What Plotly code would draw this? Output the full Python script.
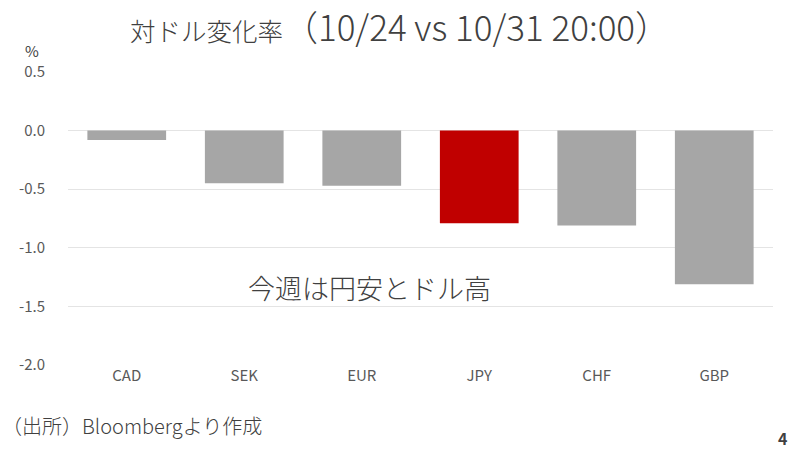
import plotly.graph_objects as go

categories = ["CAD", "SEK", "EUR", "JPY", "CHF", "GBP"]
values = [-0.08, -0.45, -0.47, -0.79, -0.81, -1.31]
highlight = "JPY"
y_ticks = [0.5, 0.0, -0.5, -1.0, -1.5, -2.0]
y_tick_labels = ["0.5", "0.0", "-0.5", "-1.0", "-1.5", "-2.0"]

colors = ["#C00000" if c == highlight else "#A6A6A6" for c in categories]
FONT = "Noto Sans CJK JP"

title_text = ("対ドル変化率"
              "<span style='font-size:35px'>（10/24 vs 10/31 20:00）</span>")

fig = go.Figure(go.Bar(x=categories, y=values, marker=dict(color=colors, line=dict(width=0)), width=0.67))

fig.update_layout(
    width=800, height=454,
    margin=dict(l=68, r=27, t=72, b=89),
    paper_bgcolor="white", plot_bgcolor="white",
    showlegend=False,
    font=dict(family=FONT, color="#595959", size=14),
    title=dict(text=title_text, x=0.5, xanchor="center", y=0.93, yanchor="middle",
               font=dict(family=FONT, size=25.5, color="#404040", weight=300)),
    xaxis=dict(showgrid=False, showline=False, zeroline=False, ticks="", automargin=False,
               tickfont=dict(size=15, color="#595959")),
    yaxis=dict(range=[-2.0, 0.5], tickvals=y_ticks, ticktext=y_tick_labels, showgrid=True, gridcolor="#E4E4E4",
               gridwidth=1, zeroline=False, showline=False, ticks="", ticklabelstandoff=22, automargin=False,
               tickfont=dict(size=15, color="#595959")),
    annotations=[
        dict(text="%", xref="paper", yref="paper", x=-0.064, y=1.075, showarrow=False, xanchor="left",
             yanchor="middle", font=dict(size=15, color="#404040")),
        dict(text="今週は円安とドル高", xref="paper", yref="paper", x=0.428, y=0.266, showarrow=False,
             yanchor="middle", font=dict(size=27, color="#404040", weight=300)),
        dict(text="（出所）Bloombergより作成", xref="paper", yref="paper", x=-0.097, y=-0.205, showarrow=False,
             xanchor="left", yanchor="middle", font=dict(size=20, color="#404040", weight=300)),
        dict(text="<b>4</b>", xref="paper", yref="paper", x=1.022, y=-0.25, showarrow=False,
             xanchor="right", yanchor="middle", font=dict(size=16, color="#404040")),
    ],
)

fig.write_html("out.html", config={"displayModeBar": False},
               post_script="document.body.style.margin='0';document.body.style.overflow='hidden';")
